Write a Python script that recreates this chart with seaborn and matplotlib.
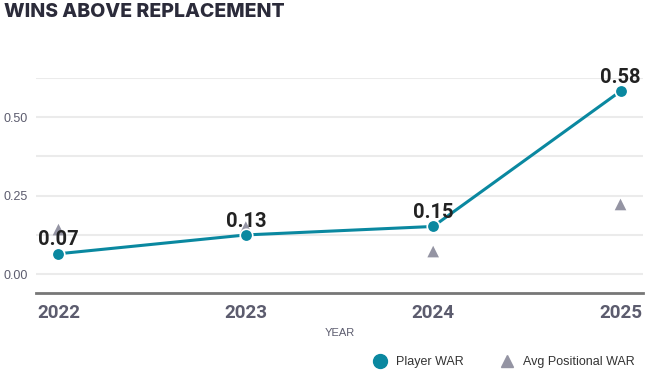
import pandas as pd
import matplotlib.pyplot as plt
import seaborn as sns
from matplotlib.lines import Line2D

# Data
years = ['2022', '2023', '2024', '2025']
player_war = [0.065, 0.125, 0.152, 0.583]
avg_pos_war = [0.142, 0.150, 0.072, 0.222]
labels = ['0.07', '0.13', '0.15', '0.58']

df = pd.DataFrame({'year': years, 'player': player_war, 'avg': avg_pos_war})
df['x'] = range(len(df))

sns.set_style('white')
plt.rcParams['font.family'] = ['Roboto', 'DejaVu Sans']

teal = '#0a88a0'
grey = '#9494a3'
fig = plt.figure(figsize=(6.63, 3.82), dpi=100)
ax = fig.add_axes([36 / 663, 1 - 293 / 382, 607 / 663, 215 / 382])

sns.lineplot(data=df, x='x', y='player', ax=ax, color=teal, linewidth=2.2,
             marker='o', markersize=9, markeredgecolor='white', markeredgewidth=1.2, zorder=4)
sns.scatterplot(data=df, x='x', y='avg', ax=ax, color=grey, marker='^', s=70,
                edgecolor='none', zorder=3)

for i, (v, lab) in enumerate(zip(player_war, labels)):
    ax.annotate(lab, (i, v), xytext=(0, 6), textcoords='offset points',
                ha='center', va='baseline', fontsize=14.5, fontweight='bold', color='#222222', zorder=5)

ax.set_xlim(-0.12, 3.12)
ax.set_ylim(-0.06, 0.625)
ax.set_yticks([0, 0.125, 0.25, 0.375, 0.5, 0.625])
ax.set_yticklabels(['0.00', '', '0.25', '', '0.50', ''], family=['Liberation Sans', 'DejaVu Sans'])
ax.set_xticks(df['x'])
ax.set_xticklabels(years)
ax.grid(axis='y', color='#ebebeb', linewidth=1.5)
ax.set_axisbelow(True)
for s in ['top', 'right', 'left']:
    ax.spines[s].set_visible(False)
ax.spines['bottom'].set_color('#777777')
ax.spines['bottom'].set_linewidth(2)
ax.tick_params(axis='y', length=0, labelsize=9, labelcolor='#5c5c6e', pad=6)
ax.tick_params(axis='x', length=0, labelsize=13.5, labelcolor='#5c5c6e', pad=8)
for t in ax.get_xticklabels():
    t.set_fontweight('bold')
ax.set_xlabel('YEAR', fontsize=8, color='#5c5c6e', labelpad=4, family=['Liberation Sans', 'DejaVu Sans'])
ax.set_ylabel('')

fig.text(4 / 663, 1 - 12 / 382, 'WINS ABOVE REPLACEMENT', fontsize=14, fontweight='heavy',
         color='#2b2b3a', va='center', ha='left', family=['Inter', 'DejaVu Sans'])

handles = [
    Line2D([], [], marker='o', linestyle='none', color=teal, markersize=10, label='Player WAR'),
    Line2D([], [], marker='^', linestyle='none', color=grey, markersize=9, label='Avg Positional WAR'),
]
fig.legend(handles=handles, loc='center right', bbox_to_anchor=(646 / 663, 1 - 362 / 382),
           ncol=2, frameon=False, prop={'family': ['Liberation Sans', 'DejaVu Sans'], 'size': 9},
           handletextpad=0.3, columnspacing=2.4, labelcolor='#333333')

fig.savefig('out.png', dpi=100)
